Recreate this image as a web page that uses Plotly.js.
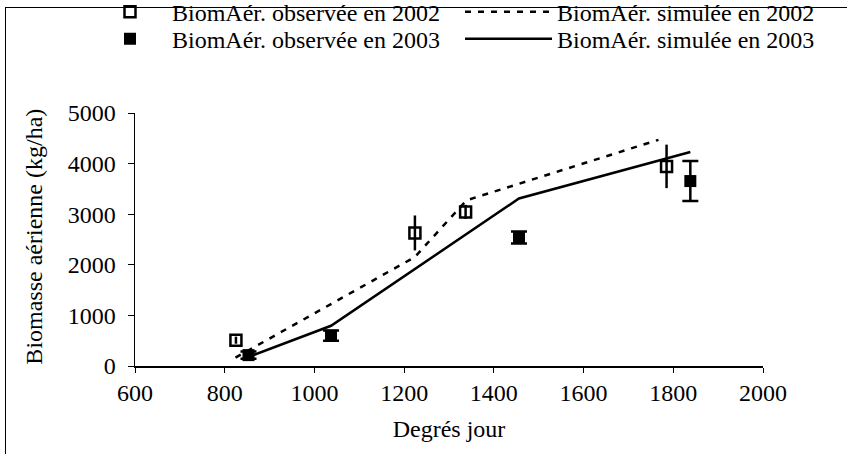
<!DOCTYPE html>
<html>
<head>
<meta charset="utf-8">
<script src="https://cdn.plot.ly/plotly-3.0.1.min.js"></script>
<style>
  body { margin: 0; background: #fff; }
  #chart { position: absolute; left: 0; top: 0; width: 847px; height: 454px; }
  #frame { position: absolute; left: 5px; top: 7px; width: 900px; height: 500px;
           border-left: 1px solid #000; border-top: 1px solid #000; pointer-events: none; }
</style>
</head>
<body>
<div id="chart"></div>
<div id="frame"></div>
<script>
// Observed 2002
const obs2002X = [825, 1224, 1337, 1785];
const obs2002Y = [510, 2630, 3045, 3945];
const obs2002Err = [70, 345, 140, 430];
// Observed 2003
const obs2003X = [853, 1037, 1456, 1838];
const obs2003Y = [215, 600, 2540, 3655];
const obs2003Err = [70, 100, 120, 395];
// Simulated 2002
const sim2002X = [824, 1224, 1339, 1767];
const sim2002Y = [165, 2155, 3275, 4470];
// Simulated 2003
const sim2003X = [853, 1037, 1456, 1838];
const sim2003Y = [180, 795, 3310, 4230];

const names = ['BiomAér. observée en 2002', 'BiomAér. simulée en 2002',
               'BiomAér. observée en 2003', 'BiomAér. simulée en 2003'];
const xTicks = [600, 800, 1000, 1200, 1400, 1600, 1800, 2000];
const yTicks = [0, 1000, 2000, 3000, 4000, 5000];
const xTitle = 'Degrés jour';
const yTitle = 'Biomasse aérienne (kg/ha)';

const FONT = "'Liberation Serif', 'Times New Roman', serif";
const FS = 24;
const M = { l: 134.5, r: 83.5, t: 112.5, b: 88 };
const PW = 847 - M.l - M.r, PH = 454 - M.t - M.b;

const traces = [
  { x: sim2002X, y: sim2002Y, mode: 'lines', name: names[1], legend: 'legend2',
    line: { color: '#000', width: 2.5, dash: '6px,7px' } },
  { x: sim2003X, y: sim2003Y, mode: 'lines', name: names[3], legend: 'legend4',
    line: { color: '#000', width: 2.5 } },
  { x: obs2002X, y: obs2002Y, mode: 'markers', name: names[0], legend: 'legend',
    marker: { symbol: 'square-open', size: 11, color: '#000', line: { width: 2.5, color: '#000' } },
    error_y: { type: 'data', array: obs2002Err, visible: true, color: '#000', thickness: 2.5, width: 0 } },
  { x: obs2003X, y: obs2003Y, mode: 'markers', name: names[2], legend: 'legend3',
    marker: { symbol: 'square', size: 12, color: '#000' },
    error_y: { type: 'data', array: obs2003Err, visible: true, color: '#000', thickness: 2.5, width: 8 } }
];

function leg(xpx, toppx, iw) {
  return { xref: 'container', yref: 'paper', x: xpx / 847, y: 1 + (M.t - toppx) / PH,
           xanchor: 'left', yanchor: 'top', orientation: 'v', itemwidth: iw,
           font: { family: FONT, size: FS, color: '#000' }, bgcolor: 'rgba(0,0,0,0)' };
}

const layout = {
  width: 847, height: 454,
  margin: { l: M.l, r: M.r, t: M.t, b: M.b, autoexpand: false },
  paper_bgcolor: 'rgba(0,0,0,0)', plot_bgcolor: 'rgba(0,0,0,0)',
  font: { family: FONT, size: FS, color: '#000' },
  showlegend: true,
  legend: leg(88, -11, 74),
  legend2: leg(460, -11, 87),
  legend3: leg(88, 16, 74),
  legend4: leg(460, 16, 87),
  xaxis: {
    range: [600, 2000], tickvals: xTicks, ticktext: xTicks.map(String),
    showgrid: false, zeroline: false, showline: true, linecolor: '#000', linewidth: 1.5,
    ticks: 'outside', ticklen: 5, tickwidth: 1, tickcolor: '#000',
    tickfont: { family: FONT, size: FS, color: '#000' },
    title: { text: xTitle, font: { family: FONT, size: FS, color: '#000' }, standoff: 15 },
    automargin: false
  },
  yaxis: {
    range: [0, 5000], tickvals: yTicks, ticktext: yTicks.map(String),
    showgrid: false, zeroline: false, showline: true, linecolor: '#000', linewidth: 1.5,
    ticks: 'outside', ticklen: 6, tickwidth: 1, tickcolor: '#000', ticklabelstandoff: 7,
    tickfont: { family: FONT, size: FS, color: '#000' },
    automargin: false
  },
  annotations: [
    { text: yTitle, xref: 'paper', yref: 'paper', x: (33 - M.l) / PW, y: 0.51,
      xanchor: 'center', yanchor: 'middle', textangle: -90, showarrow: false,
      font: { family: FONT, size: FS, color: '#000' } }
  ]
};

Plotly.newPlot('chart', traces, layout, { staticPlot: true, displayModeBar: false });
</script>
</body>
</html>
